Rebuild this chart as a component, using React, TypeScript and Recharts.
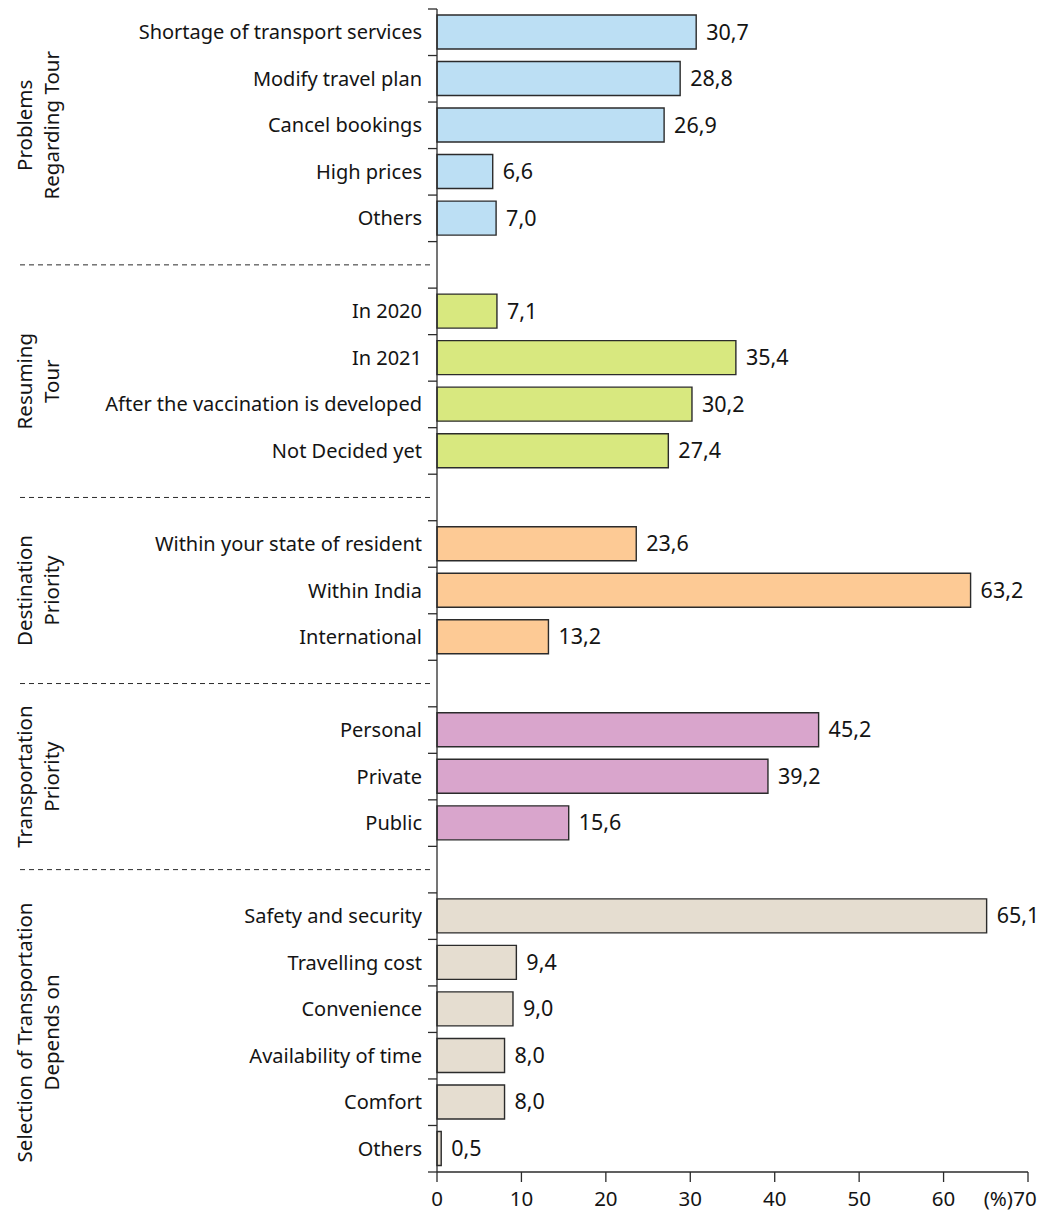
import React from 'react';
import { BarChart, Bar, XAxis, YAxis, Cell, LabelList } from 'recharts';

const problemLabels = ['Shortage of transport services', 'Modify travel plan', 'Cancel bookings', 'High prices', 'Others'];
const problemValues = [30.7, 28.8, 26.9, 6.6, 7.0];

const resumingLabels = ['In 2020', 'In 2021', 'After the vaccination is developed', 'Not Decided yet'];
const resumingValues = [7.1, 35.4, 30.2, 27.4];

const destinationLabels = ['Within your state of resident', 'Within India', 'International'];
const destinationValues = [23.6, 63.2, 13.2];

const transportLabels = ['Personal', 'Private', 'Public'];
const transportValues = [45.2, 39.2, 15.6];

const selectionLabels = ['Safety and security', 'Travelling cost', 'Convenience', 'Availability of time', 'Comfort', 'Others'];
const selectionValues = [65.1, 9.4, 9.0, 8.0, 8.0, 0.5];

const groups = [
  { title: ['Problems', 'Regarding Tour'], labels: problemLabels, values: problemValues, color: '#bcdff4' },
  { title: ['Resuming', 'Tour'], labels: resumingLabels, values: resumingValues, color: '#d8e87f' },
  { title: ['Destination', 'Priority'], labels: destinationLabels, values: destinationValues, color: '#fdca95' },
  { title: ['Transportation', 'Priority'], labels: transportLabels, values: transportValues, color: '#d9a5cc' },
  { title: ['Selection of Transportation', 'Depends on'], labels: selectionLabels, values: selectionValues, color: '#e5ddd0' },
];

const xTicks = [0, 10, 20, 30, 40, 50, 60, 70];

type Row = {
  key: string;
  label: string;
  value: number | null;
  color: string;
  spacer: boolean;
  title?: string[];
  groupSize?: number;
};

// one row per bar, plus an empty spacer row between groups
const rows: Row[] = [];
groups.forEach((g, gi) => {
  g.labels.forEach((label, i) => {
    rows.push({
      key: `g${gi}-${i}`,
      label,
      value: g.values[i],
      color: g.color,
      spacer: false,
      title: i === 0 ? g.title : undefined,
      groupSize: g.labels.length,
    });
  });
  if (gi < groups.length - 1) {
    rows.push({ key: `sep${gi}`, label: '', value: null, color: 'none', spacer: true });
  }
});

const W = 1048;
const H = 1212;
const MARGIN = { top: 9, right: 20, bottom: 0, left: 0 };
const Y_W = 437;
const X_H = 40;
const PLOT_H = H - MARGIN.top - MARGIN.bottom - X_H;
const BAND = PLOT_H / rows.length;
const FONT = '"Noto Sans", "Open Sans", sans-serif';
const INK = '#2b2b2b';
const TEXT = '#141414';
const FS = 20;

const fmt = (v: number) => v.toFixed(1).replace('.', ',');

function CategoryTick(props: any) {
  const { y, index } = props;
  const row = rows[index];
  const top = y - BAND / 2;
  const isLast = index === rows.length - 1;
  return (
    <g>
      <line x1={Y_W - 9} x2={Y_W} y1={top} y2={top} stroke={INK} strokeWidth={1.3} />
      {isLast && <line x1={Y_W - 9} x2={Y_W} y1={top + BAND} y2={top + BAND} stroke={INK} strokeWidth={1.3} />}
      {row.spacer ? (
        <line x1={20} x2={431} y1={y} y2={y} stroke={INK} strokeWidth={1} strokeDasharray="5 4" />
      ) : (
        <text x={Y_W - 15} y={y} dy="0.35em" textAnchor="end" fontSize={FS} fontFamily={FONT} fill={TEXT}>
          {row.label}
        </text>
      )}
      {row.title && (() => {
        const cy = y + ((row.groupSize || 1) - 1) * BAND / 2;
        return row.title.map((t, i) => {
          const cx = 32 + i * 27;
          return (
            <text
              key={t}
              x={cx}
              y={cy}
              transform={`rotate(-90 ${cx} ${cy})`}
              textAnchor="middle"
              fontSize={20.5}
              fontFamily={FONT}
              fill={TEXT}
            >
              {t}
            </text>
          );
        });
      })()}
    </g>
  );
}

function ValueTick(props: any) {
  const { x, y, payload } = props;
  const v = payload.value;
  return (
    <g>
      <text x={v === 70 ? x - 3 : x} y={y + 7} dy="0.71em" textAnchor="middle" fontSize={20.5} fontFamily={FONT} fill={TEXT}>
        {v}
      </text>
      {v === 70 && (
        <text x={x - 15} y={y + 7} dy="0.71em" textAnchor="end" fontSize={20.5} fontFamily={FONT} fill={TEXT}>
          (%)
        </text>
      )}
    </g>
  );
}

function ValueLabel(props: any) {
  const { x, y, width, height, value } = props;
  if (value == null) return null;
  return (
    <text x={x + width + 10} y={y + height / 2} dy="0.35em" fontSize={21.5} fontFamily={FONT} fill={TEXT}>
      {fmt(value)}
    </text>
  );
}

export default function App() {
  return (
    <div style={{ width: W, height: H, background: '#fff' }}>
      <style>{'body{margin:0}'}</style>
      <BarChart width={W} height={H} data={rows} layout="vertical" margin={MARGIN}>
        <XAxis
          type="number"
          domain={[0, 70]}
          ticks={xTicks}
          interval={0}
          height={X_H}
          axisLine={{ stroke: INK, strokeWidth: 1.3 }}
          tickLine={{ stroke: INK, strokeWidth: 1.3 }}
          tickSize={10}
          tick={<ValueTick />}
        />
        <YAxis
          type="category"
          dataKey="key"
          width={Y_W}
          interval={0}
          axisLine={{ stroke: INK, strokeWidth: 1.3 }}
          tickLine={false}
          tick={<CategoryTick />}
        />
        <Bar dataKey="value" barSize={34} stroke={INK} strokeWidth={1.4} isAnimationActive={false}>
          {rows.map((r) => (
            <Cell key={r.key} fill={r.color} />
          ))}
          <LabelList dataKey="value" content={<ValueLabel />} />
        </Bar>
      </BarChart>
    </div>
  );
}
